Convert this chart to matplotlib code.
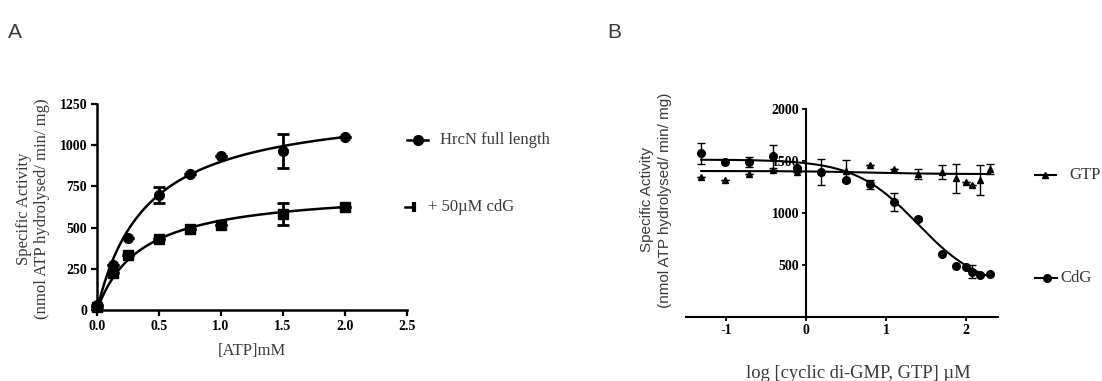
import numpy as np
import matplotlib
matplotlib.use("Agg")
import matplotlib.pyplot as plt
from matplotlib.lines import Line2D

# ---------------- Data: panel A ----------------
atp_mM = [0.0, 0.125, 0.25, 0.5, 0.75, 1.0, 1.5, 2.0]
hrcn_full = [30, 271, 437, 698, 825, 934, 963, 1052]
hrcn_full_err = [0, 0, 0, 47, 0, 0, 103, 0]
hrcn_cdg = [20, 227, 336, 429, 491, 516, 583, 625]
hrcn_cdg_err = [0, 0, 0, 0, 0, 0, 65, 0]
# Michaelis-Menten fit parameters (Vmax, Km)
fit_full = (1260, 0.40)
fit_cdg = (736, 0.356)
a_xticks = [0.0, 0.5, 1.0, 1.5, 2.0, 2.5]
a_yticks = [0, 250, 500, 750, 1000, 1250]

# ---------------- Data: panel B ----------------
log_conc = [-1.31, -1.01, -0.71, -0.41, -0.11, 0.19, 0.50, 0.80,
            1.10, 1.40, 1.70, 1.88, 2.00, 2.08, 2.18, 2.30]
cdg_act = [1577, 1490, 1490, 1545, 1436, 1394, 1314, 1276,
           1106, 941, 603, 487, 481, 433, 401, 410]
cdg_err = [100, 0, 50, 110, 0, 122, 0, 45, 91, 20, 0, 0, 0, 64, 0, 0]
gtp_act = [1346, 1321, 1379, 1417, 1400, 1395, 1404, 1459,
           1427, 1379, 1394, 1336, 1298, 1266, 1321, 1427]
gtp_err = [0, 0, 0, 0, 0, 0, 103, 0, 0, 50, 65, 141, 0, 0, 144, 50]
# 4-parameter logistic fits (top, bottom, logIC50, hill)
fit_cdg_b = (1515, 270, 1.40, 1.1)
fit_gtp_b = (1405, 1375, 0.80, 1.0)
b_xticks = [-1, 0, 1, 2]
b_yticks = [500, 1000, 1500, 2000]

W, H = 1102, 381
SERIF = ["Liberation Serif", "DejaVu Serif"]
SANS = ["Liberation Sans", "DejaVu Sans"]
GREY = "#3a3a3a"

fig = plt.figure(figsize=(W / 100, H / 100), dpi=100)


def mm(x, p):
    v, k = p
    return v * x / (k + x)


def fourpl(x, p):
    top, bot, c, h = p
    return bot + (top - bot) / (1 + 10 ** ((x - c) * h))


# ---------------- Panel A ----------------
axA = fig.add_axes([97 / W, 1 - 310 / H, 310 / W, 206 / H])
axA.set_xlim(0, 2.5)
axA.set_ylim(0, 1250)
for s in ["top", "right"]:
    axA.spines[s].set_visible(False)
for s in ["left", "bottom"]:
    axA.spines[s].set_linewidth(1.8)
axA.tick_params(direction="out", length=4, width=1.6, pad=3)
axA.set_xticks(a_xticks)
axA.set_yticks(a_yticks)
axA.set_xticklabels([f"{t:.1f}" for t in a_xticks], fontfamily=SERIF,
                    fontweight="bold", fontsize=10)
axA.set_yticklabels([str(t) for t in a_yticks], fontfamily=SERIF,
                    fontweight="bold", fontsize=10)

xs = np.linspace(0, 2.0, 200)
axA.plot(xs, mm(xs, fit_full), color="black", lw=1.8, clip_on=False)
axA.plot(xs, mm(xs, fit_cdg), color="black", lw=1.8, clip_on=False)
axA.errorbar(atp_mM, hrcn_full, yerr=hrcn_full_err, fmt="o", ms=7,
             color="black", ecolor="black", elinewidth=2, capsize=4,
             capthick=2, clip_on=False, zorder=3)
axA.errorbar(atp_mM, hrcn_cdg, yerr=hrcn_cdg_err, fmt="s", ms=7,
             color="black", ecolor="black", elinewidth=2, capsize=4,
             capthick=2, clip_on=False, zorder=3)

fig.text(252 / W, 1 - 351 / H, "[ATP]mM", fontfamily=SERIF, fontsize=12,
         color=GREY, ha="center", va="center")
fig.text(33 / W, 1 - 209 / H,
         "Specific Activity\n(nmol ATP hydrolysed/ min/ mg)",
         rotation=90, ha="center", va="center", fontfamily=SERIF,
         fontsize=12, color=GREY, linespacing=1.2)

# legend A
fig.add_artist(Line2D([407 / W, 428 / W], [1 - 140 / H] * 2, color="black",
                      lw=1.8, transform=fig.transFigure))
fig.add_artist(Line2D([418 / W], [1 - 140 / H], marker="o", ms=7,
                      color="black", transform=fig.transFigure))
fig.text(440 / W, 1 - 140 / H, "HrcN full length", fontfamily=SERIF,
         fontsize=12, color=GREY, va="center", ha="left")
fig.add_artist(Line2D([405 / W, 413 / W], [1 - 207 / H] * 2, color="black",
                      lw=1.8, transform=fig.transFigure))
fig.add_artist(Line2D([413.5 / W], [1 - 207 / H], marker="|", ms=7, mew=3,
                      color="black", transform=fig.transFigure))
fig.text(428 / W, 1 - 207 / H, "+ 50µM cdG", fontfamily=SERIF,
         fontsize=12, color=GREY, va="center", ha="left")

# ---------------- Panel B ----------------
axB = fig.add_axes([686 / W, 1 - 316.7 / H, 312 / W, 207.4 / H])
axB.set_xlim(-1.5, 2.4)
axB.set_ylim(0, 2000)
for s in ["top", "right"]:
    axB.spines[s].set_visible(False)
axB.spines["left"].set_position(("data", 0))
axB.spines["bottom"].set_position(("data", 0))
for s in ["left", "bottom"]:
    axB.spines[s].set_linewidth(1.5)
axB.tick_params(direction="out", length=3, width=1.3, pad=2)
axB.set_xticks(b_xticks)
axB.set_yticks(b_yticks)
axB.set_xticklabels([str(t) for t in b_xticks], fontfamily=SERIF,
                    fontweight="bold", fontsize=10)
axB.set_yticklabels([str(t) for t in b_yticks], fontfamily=SERIF,
                    fontweight="bold", fontsize=10)

xb = np.linspace(log_conc[0], log_conc[-1], 300)
axB.plot(xb, fourpl(xb, fit_cdg_b), color="black", lw=1.5, clip_on=False)
axB.plot(xb, fourpl(xb, fit_gtp_b), color="black", lw=1.5, clip_on=False)
axB.errorbar(log_conc, cdg_act, yerr=cdg_err, fmt="o", ms=5.5,
             color="black", ecolor="black", elinewidth=1, capsize=3,
             capthick=1, clip_on=False, zorder=3)
axB.errorbar(log_conc, gtp_act, yerr=gtp_err, fmt="^", ms=5,
             color="black", ecolor="black", elinewidth=1, capsize=3,
             capthick=1, clip_on=False, zorder=3)

fig.text(858 / W, 1 - 373 / H, "log [cyclic di-GMP, GTP] µM",
         fontfamily=SERIF, fontsize=13.3, color=GREY, ha="center",
         va="center")
fig.text(656 / W, 1 - 200 / H,
         "Specific Activity\n(nmol ATP hydrolysed/ min/ mg)",
         rotation=90, ha="center", va="center", fontfamily=SANS,
         fontsize=11, color=GREY, linespacing=1.3)

# legend B
fig.add_artist(Line2D([1035 / W, 1056 / W], [1 - 175 / H] * 2, color="black",
                      lw=1.5, transform=fig.transFigure))
fig.add_artist(Line2D([1045 / W], [1 - 175 / H], marker="^", ms=5,
                      color="black", transform=fig.transFigure))
fig.text(1069 / W, 1 - 175 / H, "GTP", fontfamily=SERIF, fontsize=12,
         color=GREY, va="center", ha="left")
fig.add_artist(Line2D([1035 / W, 1057 / W], [1 - 278 / H] * 2, color="black",
                      lw=1.5, transform=fig.transFigure))
fig.add_artist(Line2D([1047 / W], [1 - 278 / H], marker="o", ms=5.5,
                      color="black", transform=fig.transFigure))
fig.text(1060 / W, 1 - 278 / H, "CdG", fontfamily=SERIF, fontsize=12,
         color=GREY, va="center", ha="left")

# panel letters
fig.text(15 / W, 1 - 33 / H, "A", fontfamily=SANS, fontsize=15,
         color=GREY, ha="center", va="center")
fig.text(614 / W, 1 - 33 / H, "B", fontfamily=SANS, fontsize=15,
         color=GREY, ha="center", va="center")

fig.savefig("out.png", dpi=100)
